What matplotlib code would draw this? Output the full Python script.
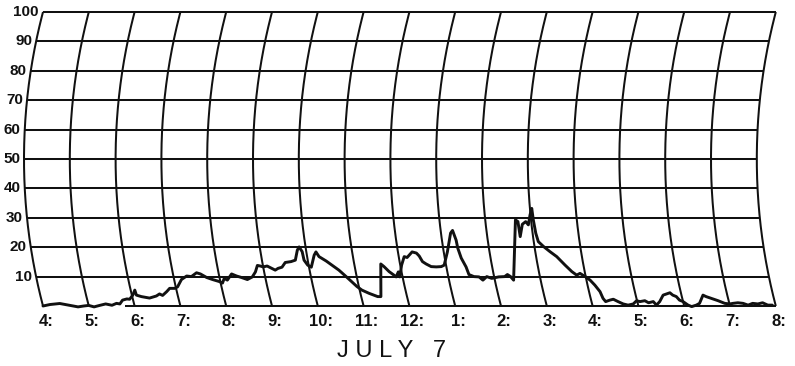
import numpy as np
import matplotlib
matplotlib.use("Agg")
import matplotlib.pyplot as plt

# Recorder trace for July 7: chart time (hours, 4 = 4 a.m. ... 20 = 8 p.m.) and reading
trace_hours = [
    4.00, 4.16, 4.38, 4.59, 4.76, 4.89, 5.00, 5.11, 5.24, 5.38,
    5.51, 5.62, 5.69, 5.77, 5.87, 5.93, 6.02, 6.09, 6.10, 6.20,
    6.37, 6.53, 6.61, 6.67, 6.78, 6.86, 6.97, 7.04, 7.16, 7.29,
    7.39, 7.52, 7.60, 7.72, 7.84, 7.98, 8.04, 8.10, 8.16, 8.28,
    8.38, 8.48, 8.60, 8.72, 8.81, 8.88, 8.94, 9.00, 9.09, 9.17,
    9.25, 9.32, 9.41, 9.50, 9.63, 9.73, 9.81, 9.86, 9.91, 9.92,
    9.98, 10.05, 10.16, 10.21, 10.26, 10.40, 10.51, 10.64, 10.77, 10.87,
    10.96, 11.05, 11.19, 11.28, 11.36, 11.43, 11.58, 11.64, 11.73, 11.82,
    11.86, 11.93, 11.94, 12.03, 12.12, 12.18, 12.31, 12.40, 12.45, 12.50,
    12.57, 12.67, 12.78, 12.89, 12.96, 13.08, 13.21, 13.26, 13.31, 13.32,
    13.36, 13.43, 13.46, 13.56, 13.67, 13.74, 13.84, 13.94, 14.10, 14.23,
    14.30, 14.36, 14.41, 14.66, 14.71, 14.72, 14.80, 14.88, 14.93, 14.99,
    15.04, 15.05, 15.07, 15.10, 15.20, 15.32, 15.45, 15.60, 15.72, 15.81,
    15.89, 15.99, 16.08, 16.16, 16.24, 16.27, 16.31, 16.41, 16.49, 16.58,
    16.68, 16.78, 16.90, 16.99, 17.06, 17.17, 17.24, 17.35, 17.40, 17.49,
    17.60, 17.76, 17.81, 17.88, 17.93, 18.00, 18.09, 18.16, 18.27, 18.35,
    18.47, 18.53, 18.63, 18.77, 18.90, 19.01, 19.08, 19.19, 19.30, 19.40,
    19.51, 19.62, 19.73, 19.83, 19.93,
]
trace_values = [
    0, 0.5, 0.85, 0.2, -0.3, 0, 0.2, -0.3, 0.2, 0.7,
    0.25, 0.9, 0.7, 2.0, 2.4, 2.3, 3.7, 5.4, 3.7, 3.2,
    2.7, 3.4, 4.1, 3.6, 4.9, 6.0, 6.0, 6.5, 9.0, 10.2,
    10.0, 11.3, 10.9, 9.7, 9.0, 8.3, 7.8, 9.4, 8.8, 10.9,
    10.2, 9.7, 9.0, 9.9, 11.6, 13.8, 13.6, 13.3, 13.6, 12.9,
    12.2, 12.8, 13.2, 14.8, 15.1, 15.6, 19.0, 20.1, 18.5, 15.6,
    13.9, 13.2, 17.3, 18.4, 16.8, 15.3, 13.9, 12.2, 10.0, 8.2,
    6.6, 5.4, 4.3, 3.7, 3.2, 3.2, 14.3, 13.4, 11.7, 10.5,
    9.9, 11.6, 9.9, 13.9, 16.8, 16.5, 18.4, 18.0, 17.0, 15.1,
    14.3, 13.4, 13.3, 13.4, 13.9, 18.4, 24.8, 25.7, 22.4, 19.7,
    16.3, 13.3, 10.7, 10.0, 9.9, 8.8, 10.0, 9.4, 9.9, 10.0,
    10.7, 10.0, 8.8, 29.3, 28.7, 23.6, 27.8, 28.7, 27.6, 31.0,
    33.2, 29.3, 24.7, 21.9, 20.2, 18.5, 16.8, 13.9, 11.7, 10.5,
    11.1, 10.0, 8.8, 7.1, 4.9, 2.6, 1.5, 2.0, 2.3, 1.5,
    0.7, 0.3, 0.7, 1.8, 1.5, 1.8, 1.1, 1.5, 0.3, 1.5,
    3.7, 4.5, 3.7, 3.2, 2.0, 1.5, 0.3, -0.2, 0.3, 0.9,
    3.7, 3.2, 2.6, 1.8, 0.9, 0.7, 0.9, 1.1, 0.9, 0.3,
    0.9, 0.7, 1.1, 0.3, 0.3,
]

hour_positions = list(range(4, 21))
hour_labels = ["4:", "5:", "6:", "7:", "8:", "9:", "10:", "11:", "12:",
               "1:", "2:", "3:", "4:", "5:", "6:", "7:", "8:"]
value_lines = list(range(0, 101, 10))
value_labels = ["10", "20", "30", "40", "50", "60", "70", "80", "90", "100"]
title = "J U L Y   7"

# Chart paper geometry (screen pixels per unit)
W, H, DPI = 795, 366, 100
PX_PER_HOUR = 45.8
PX_PER_VALUE = 2.94
LEFT_PX, BASE_PX = 43, 306          # 4: line at the baseline, zero line from top
ARC_BULGE_PX = 19                   # sideways sag of each time arc at mid-chart

fig = plt.figure(figsize=(W / DPI, H / DPI), dpi=DPI)
fig.patch.set_facecolor("white")
ax = fig.add_axes([0, 0, 1, 1])
ax.set_xlim(4 - LEFT_PX / PX_PER_HOUR, 4 + (W - LEFT_PX) / PX_PER_HOUR)
ax.set_ylim(-(H - BASE_PX) / PX_PER_VALUE, 100 + 12 / PX_PER_VALUE)
ax.axis("off")

half_chord = 50 * PX_PER_VALUE
radius = (half_chord ** 2 + ARC_BULGE_PX ** 2) / (2 * ARC_BULGE_PX)


def arc_shift(v):
    """Leftward shift (in hours) of a time arc at reading v."""
    d = (50 - np.asarray(v, dtype=float)) * PX_PER_VALUE
    off_px = ARC_BULGE_PX - (radius - np.sqrt(radius ** 2 - d ** 2))
    return off_px / PX_PER_HOUR


ink = "#111111"
grid_lw = 1.45

# time arcs
vv = np.linspace(0, 100, 200)
for h in hour_positions:
    ax.plot(h - arc_shift(vv), vv, color=ink, lw=grid_lw, solid_capstyle="butt")

# reading lines, each spanning from the first to the last arc
for v in value_lines:
    start = 5.8 if v == 0 else hour_positions[0]
    s = float(arc_shift(v))
    ax.plot([start - s, hour_positions[-1] - s], [v, v], color=ink, lw=grid_lw,
            solid_capstyle="butt")

# recorded trace, following the arc geometry of the paper
th = np.array(trace_hours)
tv = np.array(trace_values)
ax.plot(th - arc_shift(tv), tv, color=ink, lw=2.1, solid_joinstyle="round",
        solid_capstyle="round")

# reading labels, just left of the first arc
for v, lab in zip(value_lines[1:], value_labels):
    x = hour_positions[0] - float(arc_shift(v)) - 4 / PX_PER_HOUR
    ax.text(x, v, lab, ha="right", va="center", fontsize=11, fontweight="bold",
            family="Liberation Sans", color=ink)

# hour labels under the baseline
label_y = -(322 - BASE_PX) / PX_PER_VALUE
for h, lab in zip(hour_positions, hour_labels):
    ax.text(h + 3 / PX_PER_HOUR, label_y, lab, ha="center", va="center",
            fontsize=12, fontweight="bold", family="Liberation Sans", color=ink)

ax.text(4 + (392 - LEFT_PX) / PX_PER_HOUR, -(351 - BASE_PX) / PX_PER_VALUE, title,
        ha="center", va="center", fontsize=17, family="Liberation Sans", color=ink)

fig.savefig("out.png", dpi=DPI, facecolor="white")
